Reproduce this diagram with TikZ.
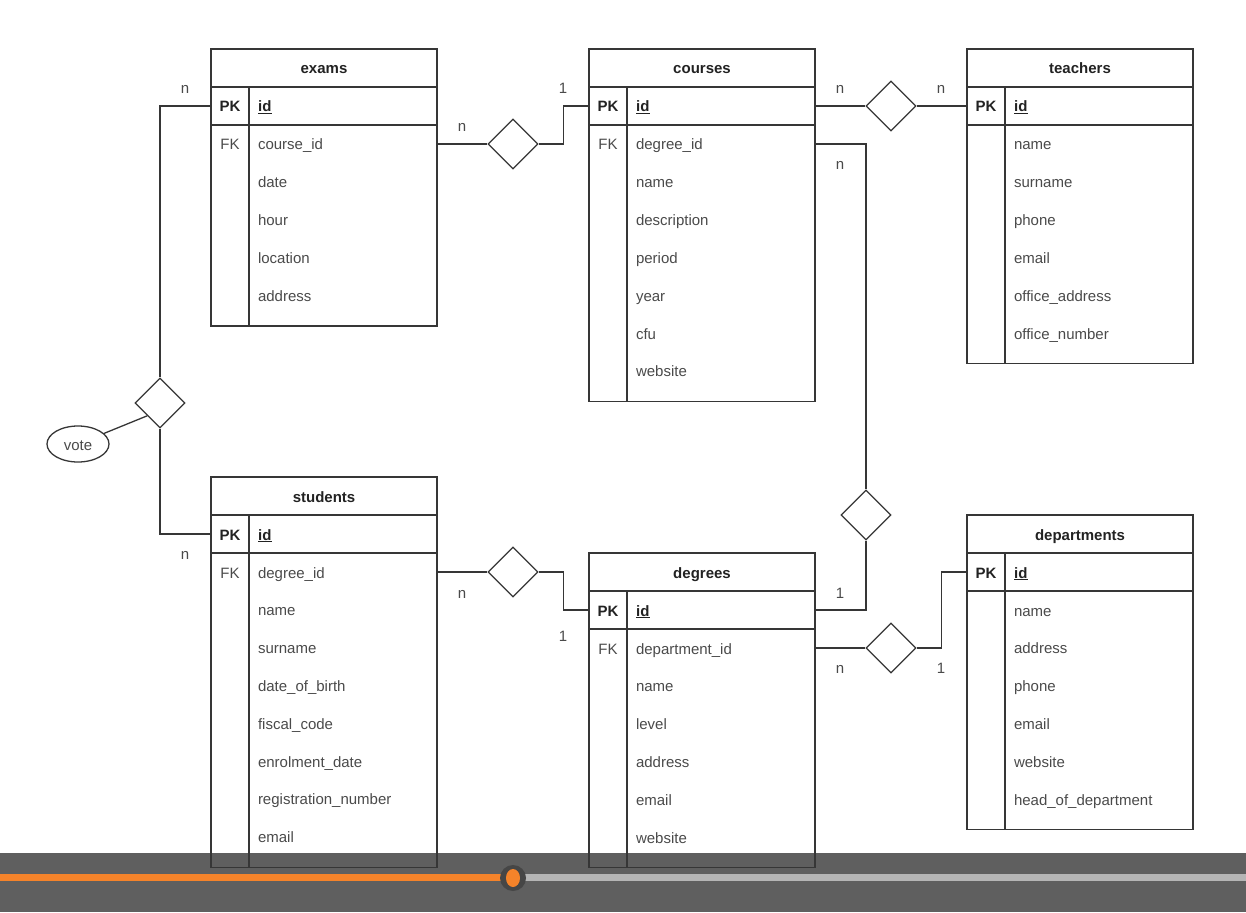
\documentclass[tikz,border=0pt]{standalone}
\usepackage{fontspec}
\setmainfont{Liberation Sans}
\usetikzlibrary{shapes.geometric,calc}
\definecolor{lncol}{HTML}{363636}
\definecolor{txcol}{HTML}{4A4A4A}
\definecolor{hdcol}{HTML}{222222}
\definecolor{barcol}{HTML}{5F5F5F}
\definecolor{orng}{HTML}{F5832A}
\definecolor{trk}{HTML}{B5B5B5}
\definecolor{knob}{HTML}{464646}
\newcommand\erfont{\fontsize{15}{18}\selectfont}
\newcommand\ertable[5]{%
  \node[hdrbox] (#1) at ({#2+113},{#3+19}) {#4};
  \node[pkbox] (#1-pk) at ({#2+113},{#3+57}) {};
  \node[keytxt,font=\erfont\bfseries,text=hdcol] (#1-pkl) at ({#2+19},{#3+57}) {PK};
  \node[fldtxt,font=\erfont\bfseries,text=hdcol] (#1-id) at ({#2+47},{#3+57}) {\underline{id}};
  \foreach \f [count=\i] in {#5} {
    \node[rowbox] (#1-r\i) at ({#2+132},{#3+95+37.8*(\i-1)}) {\f};
    \xdef\lastrow{\i}
  }
  \draw[tline] (#2,{#3+76}) rectangle ({#2+226},{#3+76+37.8*\lastrow+12});
  \draw[tline] ({#2+38},{#3+38}) -- ({#2+38},{#3+76+37.8*\lastrow+12});
}
\begin{document}
\begin{tikzpicture}[x=1pt,y=-1pt,
  tline/.style={draw=lncol,line width=1.3pt},
  txt/.style={text height=13pt,text depth=1pt},
  hdrbox/.style={tline,txt,minimum width=226pt,minimum height=38pt,inner sep=0,font=\erfont\bfseries,text=hdcol},
  pkbox/.style={tline,minimum width=226pt,minimum height=38pt,inner sep=0},
  keytxt/.style={txt,inner sep=0,font=\erfont,text=txcol},
  fldtxt/.style={txt,inner sep=0,anchor=west,font=\erfont,text=txcol},
  rowbox/.style={txt,minimum width=188pt,minimum height=37.8pt,text width=170pt,inner xsep=9pt,inner ysep=0,align=left,font=\erfont,text=txcol},
  rel/.style={diamond,tline,minimum width=50pt,minimum height=50pt,inner sep=0,aspect=1},
  attr/.style={ellipse,tline,txt,minimum width=62pt,minimum height=36pt,inner sep=0,font=\erfont,text=txcol},
  card/.style={txt,inner sep=0,font=\erfont,text=txcol},
  conn/.style={draw=lncol,line width=1.3pt}]
\useasboundingbox (0,0) rectangle (1246,912);
% video player bar
\fill[barcol] (0,853) rectangle (1246,912);
\fill[orng] (0,874) rectangle (513,881);
\fill[trk] (513,874) rectangle (1246,881);
\fill[knob] (513,878) circle (13);
\fill[orng] (513,878) ellipse (7 and 9);
% tables
\ertable{exams}{211}{49}{exams}{course\_id,date,hour,location,address}
\node[keytxt] (exams-fk) at (230,144) {FK};
\ertable{courses}{589}{49}{courses}{degree\_id,name,description,period,year,cfu,website}
\node[keytxt] (courses-fk) at (608,144) {FK};
\ertable{teachers}{967}{49}{teachers}{name,surname,phone,email,office\_address,office\_number}
\ertable{students}{211}{477}{students}{degree\_id,name,surname,date\_of\_birth,fiscal\_code,enrolment\_date,registration\_number,email}
\node[keytxt] (students-fk) at (230,572) {FK};
\ertable{degrees}{589}{553}{degrees}{department\_id,name,level,address,email,website}
\node[keytxt] (degrees-fk) at (608,648) {FK};
\ertable{departments}{967}{515}{departments}{name,address,phone,email,website,head\_of\_department}
% relationships
\node[rel] (dEC) at (513,144) {};
\node[rel] (dCT) at (891,106) {};
\node[rel] (dCD) at (866,515) {};
\node[rel] (dDD) at (891,648) {};
\node[rel] (dSD) at (513,572) {};
\node[rel] (dES) at (160,403) {};
\node[attr] (vote) at (78,444) {vote};
\coordinate (dESm) at ($(dES.west)!0.5!(dES.south)$);
% connectors
\draw[conn] (exams-r1.east) -- (dEC.west);
\draw[conn] (dEC.east) -- ++(25,0) |- (courses-pk.west);
\draw[conn] (courses-pk.east) -- (dCT.west);
\draw[conn] (dCT.east) -- (teachers-pk.west);
\draw[conn] (courses-r1.east) -| (dCD.north);
\draw[conn] (dCD.south) |- (degrees-pk.east);
\draw[conn] (degrees-r1.east) -- (dDD.west);
\draw[conn] (dDD.east) -- ++(25,0) |- (departments-pk.west);
\draw[conn] (students-r1.east) -- (dSD.west);
\draw[conn] (dSD.east) -- ++(25,0) |- (degrees-pk.west);
\draw[conn] (exams-pk.west) -| (dES.north);
\draw[conn] (dES.south) |- (students-pk.west);
\draw[conn] (vote) -- (dESm);
% cardinalities
\node[card] (c1) at (462,126) {n};
\node[card] (c2) at (563,88) {1};
\node[card] (c3) at (840,88) {n};
\node[card] (c4) at (941,88) {n};
\node[card] (c5) at (840,163) {n};
\node[card] (c6) at (840,592) {1};
\node[card] (c7) at (840,667) {n};
\node[card] (c8) at (941,667) {1};
\node[card] (c9) at (462,592) {n};
\node[card] (c10) at (563,635) {1};
\node[card] (c11) at (185,88) {n};
\node[card] (c12) at (185,553) {n};
\end{tikzpicture}
\end{document}
